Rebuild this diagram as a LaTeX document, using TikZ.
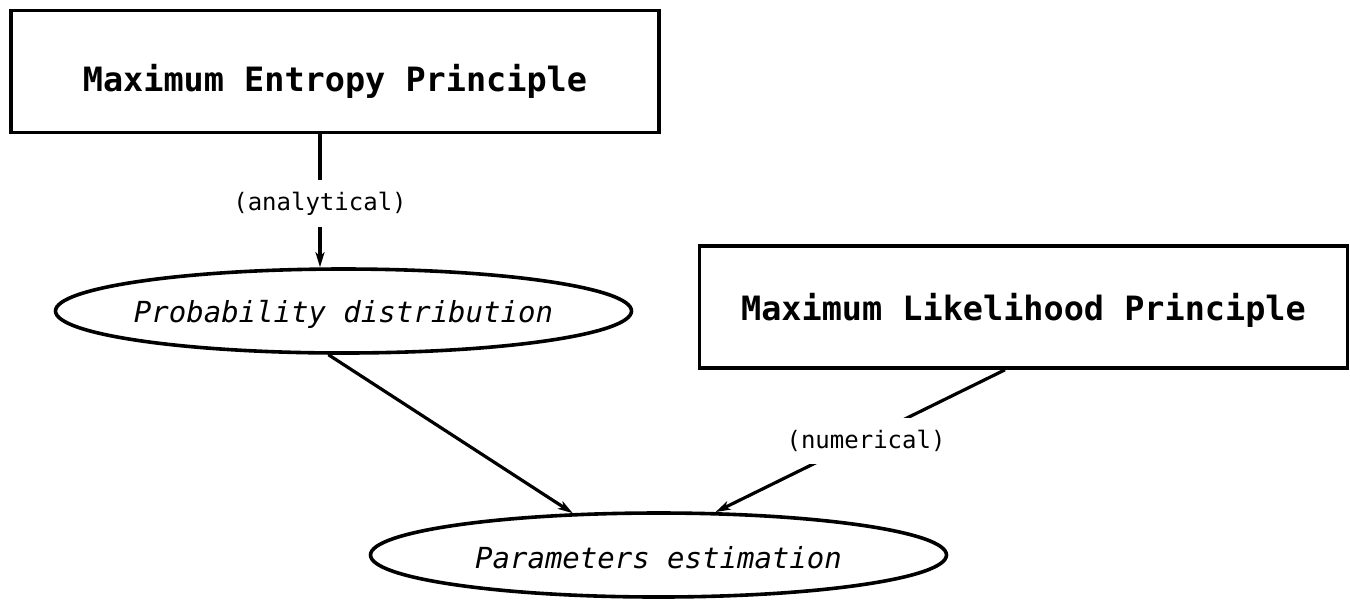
\documentclass[tikz,border=0pt]{standalone}
\usepackage{fontspec}
\newfontfamily\dmono{DejaVu Sans Mono}
\usetikzlibrary{arrows.meta,shapes.geometric}
\begin{document}
\begin{tikzpicture}[x=0.5pt,y=-0.5pt,
  box/.style={draw,line width=1.8pt,minimum width=324pt,minimum height=61pt,inner sep=0pt},
  oval/.style={draw,ellipse,line width=1.8pt,minimum width=288pt,minimum height=42pt,inner sep=0pt},
  arr/.style={line width=1.6pt,-{Stealth[length=7.5pt,width=4.5pt,inset=2pt]}},
  lbl/.style={fill=white,font=\dmono\fontsize{12}{14}\selectfont,inner xsep=2pt,inner ysep=6pt},
  btxt/.style={font=\dmono\bfseries\fontsize{16.75}{20}\selectfont},
  itxt/.style={font=\dmono\itshape\fontsize{14.5}{17}\selectfont}]
\useasboundingbox (0,0) rectangle (1350,602);
\node[box,label={[btxt,yshift=-5pt]center:Maximum Entropy Principle}] (mep) at (335,71.5) {};
\node[box,label={[btxt,yshift=-1.5pt]center:Maximum Likelihood Principle}] (mlp) at (1023.5,307) {};
\node[oval,label={[itxt,yshift=-1.5pt]center:Probability distribution}] (pd) at (343.5,311) {};
\node[oval,label={[itxt,yshift=-1.5pt]center:Parameters estimation}] (pe) at (658.5,555) {};
\draw[arr] ([xshift=-7.5pt]mep.south) -- node[lbl,yshift=-1.5pt]{(analytical)} ([xshift=-7.5pt]mep.south |- pd.north);
\draw[arr] (pd.-109.7) -- (pe.154.5);
\draw[arr] ([xshift=-9.25pt]mlp.south) -- node[lbl,pos=0.48,yshift=-1.5pt]{(numerical)} (pe.37);
\end{tikzpicture}
\end{document}
